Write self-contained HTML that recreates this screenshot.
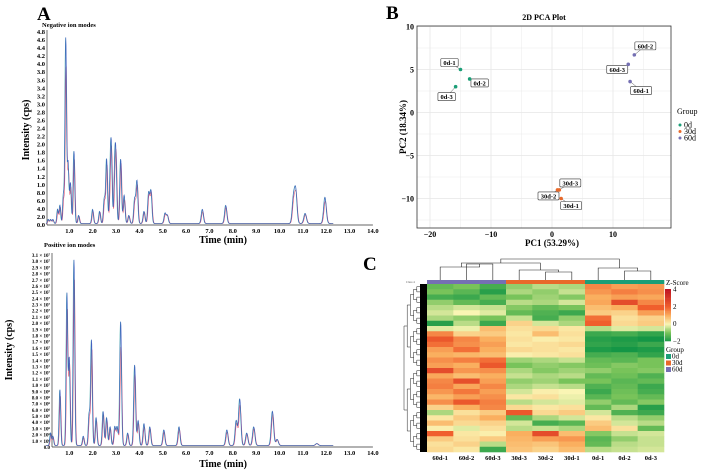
<!DOCTYPE html>
<html><head><meta charset="utf-8"><style>
html,body{margin:0;padding:0;background:#fff;}
svg{display:block;font-family:"Liberation Serif",serif;}
</style></head><body>
<svg id="fig" width="709" height="472" viewBox="0 0 709 472" xmlns="http://www.w3.org/2000/svg">
<g id="panelA">
<text x="37" y="20" font-size="19" font-weight="bold">A</text>
<text x="42" y="27" font-size="6.5" font-weight="bold">Negative ion modes</text>
<text x="44" y="247" font-size="6.5" font-weight="bold">Positive ion modes</text>
<text transform="translate(29,130) rotate(-90)" text-anchor="middle" font-size="10" font-weight="bold">Intensity (cps)</text>
<text x="223" y="243" text-anchor="middle" font-size="10" font-weight="bold">Time (min)</text>
<text transform="translate(12,350) rotate(-90)" text-anchor="middle" font-size="10" font-weight="bold">Intensity (cps)</text>
<text x="223" y="467" text-anchor="middle" font-size="10" font-weight="bold">Time (min)</text>
<g id="neg"></g>
<g id="pos"></g>
</g>
<g id="panelB">
<text x="386" y="19" font-size="19" font-weight="bold">B</text>
<text x="544" y="20" text-anchor="middle" font-size="8" font-weight="bold">2D PCA Plot</text>
<text x="552" y="246" text-anchor="middle" font-size="9" font-weight="bold">PC1 (53.29%)</text>
<text transform="translate(406,127) rotate(-90)" text-anchor="middle" font-size="9" font-weight="bold">PC2 (18.34%)</text>
<g id="pca"></g>
<g>
<text x="677" y="114" font-size="8">Group</text>
<g id="pcaLeg"></g>
</g>
</g>
<g id="panelC">
<text x="363" y="270" font-size="19" font-weight="bold">C</text>
<g id="heat"></g>
</g>
</svg>
<script>
const NS="http://www.w3.org/2000/svg";
function mk(tag,attrs,parent){const e=document.createElementNS(NS,tag);for(const k in attrs)e.setAttribute(k,attrs[k]);parent.appendChild(e);return e;}

// ---------- Chromatogram data ----------
const xTicks=[1,2,3,4,5,6,7,8,9,10,11,12,13,14];
const negTickLabels=["0.0","2.0","4.0","6.0","8.0","1.0","1.2","1.4","1.6","1.8","2.0","2.2","2.4","2.6","2.8","3.0","3.2","3.4","3.6","3.8","4.0","4.2","4.4","4.6","4.8"];
const negPeakTimes=[0.1,0.2,0.3,0.5,0.6,0.75,0.85,0.95,1.05,1.2,1.4,2.0,2.3,2.5,2.6,2.75,2.8,2.95,3.0,3.2,3.35,3.55,3.8,3.9,4.2,4.4,4.5,5.1,5.2,6.7,7.7,10.6,10.7,11.1,11.95];
const negPeakHeights=[0.1,0.1,0.1,0.35,0.45,0.7,4.6,1.5,1.0,1.8,0.2,0.35,0.3,0.6,1.6,0.8,1.75,1.2,1.3,1.6,0.7,0.2,0.6,1.05,0.3,0.75,0.8,0.25,0.2,0.35,0.45,0.6,0.8,0.25,0.65];
const negPeakHeights2=[0.08,0.09,0.08,0.3,0.4,0.6,3.9,1.3,0.9,1.6,0.18,0.3,0.28,0.55,1.45,0.7,1.6,1.05,1.25,1.5,0.6,0.18,0.55,0.95,0.28,0.7,0.75,0.22,0.18,0.3,0.4,0.55,0.7,0.22,0.55];
const posTickLabels=["0.0","1.0 × 10⁶","2.0 × 10⁶","3.0 × 10⁶","4.0 × 10⁶","5.0 × 10⁶","6.0 × 10⁶","7.0 × 10⁶","8.0 × 10⁶","9.0 × 10⁶","1.0 × 10⁷","1.1 × 10⁷","1.2 × 10⁷","1.3 × 10⁷","1.4 × 10⁷","1.5 × 10⁷","1.6 × 10⁷","1.7 × 10⁷","1.8 × 10⁷","1.9 × 10⁷","2.0 × 10⁷","2.1 × 10⁷","2.2 × 10⁷","2.3 × 10⁷","2.4 × 10⁷","2.5 × 10⁷","2.6 × 10⁷","2.7 × 10⁷","2.8 × 10⁷","2.9 × 10⁷","3.0 × 10⁷","3.1 × 10⁷"];
const posPeakTimes=[0.2,0.3,0.6,0.9,1.0,1.2,1.6,1.85,1.95,2.15,2.45,2.6,2.75,2.95,3.05,3.2,3.5,3.8,3.95,4.2,4.45,5.05,5.7,7.75,8.15,8.3,8.6,8.9,9.7,9.9,11.6];
const posPeakHeights=[0.2,0.15,0.9,2.45,1.4,3.0,0.15,0.5,1.7,0.45,0.55,0.45,0.3,0.3,0.3,2.0,0.2,1.3,0.4,0.35,0.3,0.25,0.3,0.25,0.4,0.75,0.2,0.3,0.55,0.1,0.03];
const posPeakHeights2=[0.17,0.13,0.8,2.2,1.3,2.7,0.13,0.45,1.55,0.4,0.5,0.4,0.27,0.27,0.27,1.6,0.18,1.15,0.36,0.3,0.27,0.22,0.26,0.22,0.36,0.65,0.18,0.27,0.5,0.09,0.03];

function chrom(g,cfg){
  const X=t=>cfg.x0+t*cfg.pxPerMin;
  const Y=v=>cfg.yBase-v/cfg.yMax*(cfg.yBase-cfg.yTop);
  mk("line",{x1:cfg.axisX,y1:cfg.yTop-2,x2:cfg.axisX,y2:cfg.yBase,stroke:"#333","stroke-width":0.7},g);
  mk("line",{x1:cfg.axisX,y1:cfg.yBase,x2:X(14),y2:cfg.yBase,stroke:"#333","stroke-width":0.7},g);
  cfg.labels.forEach((l,i)=>{const v=i*cfg.yMax/(cfg.labels.length-1);
    const t=mk("text",{x:cfg.axisX-2,y:Y(v)+2,"text-anchor":"end","font-size":cfg.lf,"font-weight":"bold"},g);t.textContent=l;
    
    });
  xTicks.forEach(tk=>{const t=mk("text",{x:X(tk),y:cfg.yBase+8,"text-anchor":"middle","font-size":6.5,"font-weight":"bold"},g);t.textContent=tk.toFixed(1);
    
    });
  const series=[[cfg.h2,"#e0405a",0.015],[cfg.h,"#2aa3a0",-0.012],[cfg.h,"#3a4fc0",0]];
  series.forEach(([hs,col,sh],si)=>{
    let d="";
    for(let t=0;t<=12.3;t+=0.01){let v=0.008*cfg.yMax;
      cfg.t.forEach((pt,i)=>{const s=0.032+pt*0.002;v+=hs[i]*Math.exp(-((t-pt-sh)**2)/(2*s*s));});
      d+=(d?"L":"M")+X(t).toFixed(1)+","+Y(Math.min(v,cfg.yMax)).toFixed(1);}
    const p=mk("path",{d:d,fill:"none",stroke:col,"stroke-width":0.6,opacity:0.85},g);
    
    
  });
}
chrom(document.getElementById("neg"),{x0:46,pxPerMin:23.35,yBase:225,yTop:32,yMax:4.8,axisX:47,labels:negTickLabels,lf:6.5,t:negPeakTimes,h:negPeakHeights,h2:negPeakHeights2});
chrom(document.getElementById("pos"),{x0:46,pxPerMin:23.35,yBase:447,yTop:255,yMax:3.1,axisX:52,labels:posTickLabels,lf:5,t:posPeakTimes,h:posPeakHeights,h2:posPeakHeights2});

// ---------- PCA ----------
const pcaNames=["0d-1","0d-2","0d-3","30d-1","30d-2","30d-3","60d-1","60d-2","60d-3"];
const pcaGroups=["0d","0d","0d","30d","30d","30d","60d","60d","60d"];
const pcaPC1=[-15,-13.5,-15.8,1.5,0.9,1.2,12.8,13.5,12.5];
const pcaPC2=[5,3.9,3,-10,-9,-9,3.6,6.7,5.6];
const pcaXTicks=[-20,-10,0,10];
const pcaYTicks=[-10,-5,0,5,10];
const groupColors={"0d":"#1b9e77","30d":"#e8692a","60d":"#7570b3"};
const labelOff={"0d-1":[-11,-7],"0d-2":[10,4],"0d-3":[-9,10],"30d-1":[10,7],"30d-2":[-9,6],"30d-3":[11,-7],"60d-1":[11,9],"60d-2":[11,-9],"60d-3":[-11,5]};
(function(){
  const g=document.getElementById("pca");
  const L=417,R=671,T=26,B=228;
  const X=v=>552+v*6.1, Y=v=>112.5-v*8.6;
  mk("rect",{x:L,y:T,width:R-L,height:B-T,fill:"#fff"},g);
  for(let v=-25;v<=20;v+=5){const x=X(v);if(x>L&&x<R)mk("line",{x1:x,y1:T,x2:x,y2:B,stroke:"#e6e6e6","stroke-width":v%10===0?0.8:0.4},g);}
  for(let v=-12.5;v<=10;v+=2.5){const y=Y(v);if(y>T&&y<B)mk("line",{x1:L,y1:y,x2:R,y2:y,stroke:"#e6e6e6","stroke-width":v%5===0?0.8:0.4},g);}
  mk("rect",{x:L,y:T,width:R-L,height:B-T,fill:"none",stroke:"#333","stroke-width":0.8},g);
  pcaXTicks.forEach(v=>{const t=mk("text",{x:X(v),y:B+9,"text-anchor":"middle","font-size":8,"font-weight":"bold"},g);t.textContent=v<0?"−"+(-v):v;
    
    });
  pcaYTicks.forEach(v=>{const t=mk("text",{x:L-3,y:Y(v)+3,"text-anchor":"end","font-size":8,"font-weight":"bold"},g);t.textContent=v<0?"−"+(-v):v;
    
    });
  pcaNames.forEach((n,i)=>{
    const px=X(pcaPC1[i]),py=Y(pcaPC2[i]);const o=labelOff[n];
    const lx=px+o[0],ly=py+o[1];
    mk("line",{x1:px,y1:py,x2:lx,y2:ly,stroke:"#555","stroke-width":0.5},g);
    const w=n.length*3.6+3;
    const r=mk("rect",{x:lx-w/2,y:ly-4,width:w,height:8,fill:"#fff",stroke:"#333","stroke-width":0.6,rx:1},g);
    
    
    const t=mk("text",{x:lx,y:ly+2.5,"text-anchor":"middle","font-size":6.5,"font-weight":"bold"},g);t.textContent=n;
    
    
    const c=mk("circle",{cx:px,cy:py,r:1.8,fill:groupColors[pcaGroups[i]]},g);
    
    
  });
  const lg=document.getElementById("pcaLeg");
  ["0d","30d","60d"].forEach((k,i)=>{
    mk("circle",{cx:680,cy:125+i*6.5,r:1.5,fill:groupColors[k]},lg);
    const t=mk("text",{x:684,y:127.5+i*6.5,"font-size":8},lg);t.textContent=k;
    
    
  });
})();

// ---------- Heatmap ----------
const heatCols=["60d-1","60d-2","60d-3","30d-3","30d-2","30d-1","0d-1","0d-2","0d-3"];
const heatColGroups=["60d","60d","60d","30d","30d","30d","0d","0d","0d"];
const heatRows=[
[-1.2,-1,-1.5,-0.8,-0.5,-0.6,1.5,1.2,1.3],
[-1,-1.3,-1.8,-0.6,-0.8,-0.4,1.3,1.6,1.4],
[-1.5,-1.6,-1.2,-1,-0.7,-0.9,1,1.2,1.1],
[-0.8,-1.2,-1.5,-0.5,-0.6,-0.3,1.1,2.5,1.5],
[-0.5,-0.3,-0.4,-0.9,-1.2,-1,0.8,1,2],
[-0.3,0,-0.2,-1.2,-1.4,-1.6,0.6,0.5,1.2],
[-0.6,-0.8,-1,-0.4,-1.5,-0.8,1.8,0.3,0.5],
[-1.8,-0.5,-1.6,0.5,-0.3,-0.6,2,0.4,0.6],
[-0.2,-0.1,0.8,0.3,0.4,0.2,-0.5,-0.2,-0.3],
[1.5,0.5,0.6,0.2,0.8,0.3,-1.6,-1.5,-1.7],
[2.2,1.5,1,0.3,0.1,0.2,-1.8,-1.9,-2],
[1.8,1.4,1.2,0.2,0.3,0.4,-1.7,-1.8,-1.6],
[1.2,1.8,1,0.4,0.3,0.2,-1.9,-2,-1.9],
[1,0.9,0.8,0.1,0.2,0.3,-1.5,-1.4,-1.7],
[1.4,1.6,1.8,-0.7,-0.6,-0.4,-1.2,-1.3,-1],
[1.2,1,2.2,-1,-0.8,-0.9,-1.1,-0.9,-1],
[2.5,1.3,1.4,-0.6,-0.9,-0.7,-0.8,-1,-0.9],
[1.1,0.8,1,-0.4,-0.6,-0.5,-1.2,-1.1,-1.4],
[1.5,2.4,1.2,-0.8,-0.7,-1,-1,-1.3,-1.2],
[1.6,1.1,1.5,-0.6,-0.4,-0.5,-1.4,-1.2,-1.6],
[1.3,1.7,1.2,-0.3,0.1,0,-1.6,-1.1,-1.5],
[0.9,1.2,1.4,0.2,0.3,-0.1,-1.3,-1,-1.2],
[1.4,2.2,1.6,-0.5,-0.3,-0.2,-0.8,-1.2,-0.9],
[0.5,1,1.5,0.4,0.2,0.3,-1.2,-0.6,-1.8],
[-0.6,0.3,0.6,2.2,0.4,0.6,-0.3,-1.4,-1.6],
[0.2,0.6,1,-1.2,-0.6,-0.3,0.2,-0.5,-0.8],
[0.8,0.4,0.5,-0.3,-1.5,-1.3,0.6,-0.3,-0.5],
[0.1,-0.2,0.3,-0.5,-0.4,-0.6,0.8,0.3,-1.2],
[2,0.2,0.1,1,2.5,0.8,-0.9,-0.4,-0.3],
[0.6,0.3,0.6,0.9,1.2,1.3,-1.3,-0.8,-0.4],
[0.3,0.5,-0.5,0.8,0.7,1,-1.2,-0.5,-0.4],
[0.4,0.2,-1.6,0.7,0.5,0.8,-0.5,-0.4,-0.3]];
const zTicks=[4,2,0,-2];
function zColor(z){
  const stops=[[-2,[20,150,70]],[-1,[120,195,90]],[0,[250,245,180]],[1,[250,175,95]],[2,[240,95,45]],[4,[190,20,35]]];
  z=Math.max(-2,Math.min(4,z));
  for(let i=0;i<stops.length-1;i++){const [a,ca]=stops[i],[b,cb]=stops[i+1];
    if(z<=b){const f=(z-a)/(b-a);return "rgb("+ca.map((c,j)=>Math.round(c+(cb[j]-c)*f)).join(",")+")";}}
  return "rgb(190,20,35)";
}
(function(){
  const g=document.getElementById("heat");
  const L=427,R=664,T=284,B=452;
  const cw=(R-L)/heatCols.length, rh=(B-T)/heatRows.length;
  heatRows.forEach((row,ri)=>row.forEach((z,ci)=>{
    const r=mk("rect",{x:L+ci*cw,y:T+ri*rh,width:cw+0.3,height:rh+0.3,fill:zColor(z)},g);
    
    
  }));
  heatCols.forEach((c,ci)=>{
    const b=mk("rect",{x:L+ci*cw,y:280,width:cw+0.3,height:4,fill:groupColors[heatColGroups[ci]]},g);
    
    
    const t=mk("text",{x:L+ci*cw+cw/2,y:460,"text-anchor":"middle","font-size":6.5,"font-weight":"bold"},g);t.textContent=c;
    
    
  });
  const cx=i=>L+i*cw+cw/2;
  let d="";
  d+="M"+cx(0)+",280V267H"+((cx(1)+cx(2))/2)+"V264";
  d+="M"+cx(1)+",280V264H"+cx(2)+"V280";
  d+="M"+cx(3)+",280V270H"+((cx(4)+cx(5))/2)+"V272";
  d+="M"+cx(4)+",280V272H"+cx(5)+"V280";
  d+="M"+cx(6)+",280V268H"+((cx(7)+cx(8))/2)+"V271";
  d+="M"+cx(7)+",280V271H"+cx(8)+"V280";
  const m1=(cx(0)+cx(1))/2+8, m2=(cx(3)+cx(4))/2+8, m3=(cx(6)+cx(7))/2+8;
  d+="M"+m1+",267V263H"+m2+"V270";
  d+="M"+((m1+m2)/2)+",263V259H"+m3+"V268";
  const cd=mk("path",{d:d,fill:"none",stroke:"#222","stroke-width":0.6},g);
  
  
  const rl=mk("rect",{x:420,y:T,width:7,height:B-T,fill:"#000"},g);
  
  
  let rd="";
  function tree(lo,hi,depth){
    if(hi-lo<=1){return {y:T+(lo+0.5)*rh,x:420};}
    const mid=Math.floor((lo+hi)/2);
    const A=tree(lo,mid,depth+1),Bn=tree(mid,hi,depth+1);
    const x=420-Math.max(3,16-depth*3.2);
    rd+="M"+A.x+","+A.y+"H"+x+"V"+Bn.y+"H"+Bn.x;
    return {y:(A.y+Bn.y)/2,x:x};
  }
  tree(0,heatRows.length,0);
  const rdp=mk("path",{d:rd,fill:"none",stroke:"#222","stroke-width":0.5},g);
  
  
  const st=mk("text",{x:406,y:283,"font-size":3,fill:"#555"},g);st.textContent="Class 4";
  
  
  const zt=mk("text",{x:666,y:285,"font-size":7},g);zt.textContent="Z-Score";
  
  
  const cb0=289,cb1=341;
  for(let i=0;i<40;i++){const z=4-6*i/40;
    mk("rect",{x:665,y:cb0+i*(cb1-cb0)/40,width:6,height:(cb1-cb0)/40+0.3,fill:zColor(z)},g);}
  zTicks.forEach(z=>{const y=cb0+(4-z)/6*(cb1-cb0);
    const t=mk("text",{x:673,y:y+2.5,"font-size":7},g);t.textContent=z<0?"−"+(-z):z;
    
    });
  const gt=mk("text",{x:666,y:352,"font-size":7},g);gt.textContent="Group";
  
  
  ["0d","30d","60d"].forEach((k,i)=>{
    mk("rect",{x:666,y:354+i*6.5,width:5,height:5,fill:groupColors[k]},g);
    const t=mk("text",{x:672,y:358.5+i*6.5,"font-size":7},g);t.textContent=k;
    
    
  });
})();
</script>
</body></html>
